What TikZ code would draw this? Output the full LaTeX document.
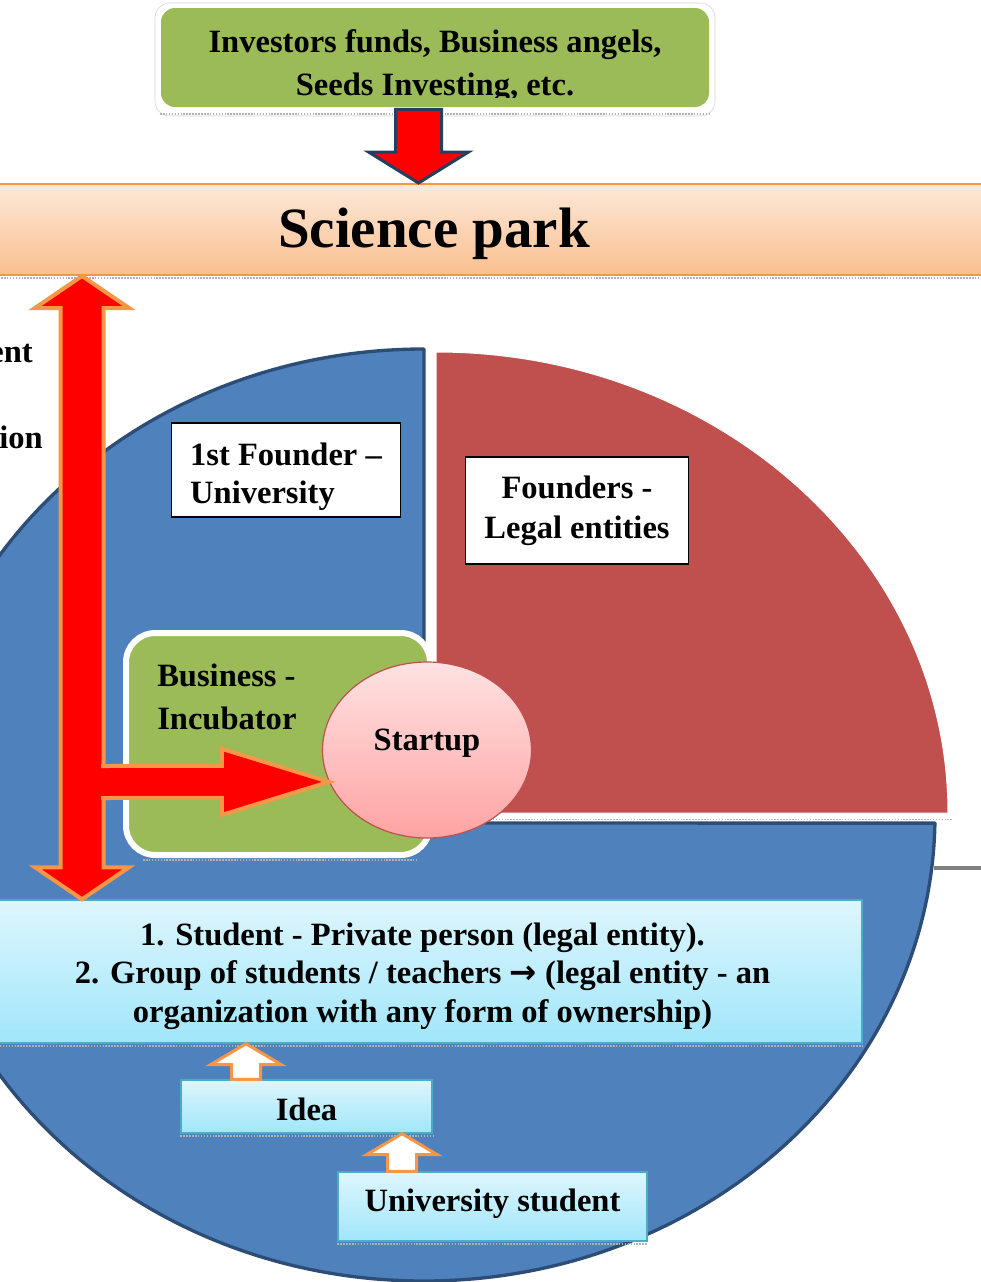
\documentclass[tikz,border=0pt]{standalone}
\usepackage{fontspec}
\setmainfont{Liberation Serif}
\newfontfamily\arrowfont{DejaVu Sans}
\usetikzlibrary{calc,shapes.geometric}

\definecolor{oliveleaf}{RGB}{155,187,89}
\definecolor{pieblue}{RGB}{79,129,189}
\definecolor{pieedge}{RGB}{44,77,117}
\definecolor{piered}{RGB}{192,80,77}
\definecolor{arrowred}{RGB}{255,0,0}
\definecolor{tangerine}{RGB}{247,150,70}
\definecolor{navyedge}{RGB}{36,63,96}
\definecolor{peachtop}{RGB}{253,233,217}
\definecolor{peachbot}{RGB}{250,191,143}
\definecolor{skytop}{RGB}{222,246,253}
\definecolor{skybot}{RGB}{160,230,250}
\definecolor{skyedge}{RGB}{75,172,198}
\definecolor{pinktop}{RGB}{255,226,226}
\definecolor{pinkbot}{RGB}{255,163,163}

\begin{document}
\begin{tikzpicture}[x=0.75pt,y=0.75pt,yscale=-1,xscale=1,
  lbl/.style={font=\bfseries\fontsize{24.4}{#1}\selectfont, inner sep=0pt, text=black},
  lbl/.default=28.5,
  fundsbox/.style={fill=oliveleaf, rounded corners=10.5pt, minimum width=411pt, minimum height=74.25pt, inner sep=0pt},
  parkband/.style={top color=peachtop, bottom color=peachbot, draw=tangerine, line width=1.5pt, minimum width=846pt, minimum height=68.25pt, inner sep=0pt, font=\bfseries\fontsize{42.75}{50}\selectfont},
  pieslice/.style={fill=pieblue, draw=pieedge, line width=2.5pt, line join=round},
  redslice/.style={fill=piered, draw=white, line width=0.75pt},
  whitebox/.style={draw=black, fill=white, line width=0.9pt},
  skybox/.style={draw=skyedge, line width=1.1pt, top color=skytop, bottom color=skybot},
  incubbox/.style={fill=oliveleaf, draw=white, line width=4.5pt, rounded corners=22pt, minimum width=228pt, minimum height=166.5pt},
  startupbox/.style={ellipse, draw=piered, line width=0.9pt, top color=pinktop, bottom color=pinkbot, minimum width=156.75pt, minimum height=132pt},
  fatarrow/.style={fill=arrowred, draw=tangerine, line width=3pt, line join=miter},
  droparrow/.style={fill=arrowred, draw=navyedge, line width=2.25pt, line join=miter},
  hollowarrow/.style={fill=white, draw=tangerine, line width=2.25pt, line join=miter},
  shadowline/.style={draw=gray!60, line width=1.2pt, densely dotted}
]
\useasboundingbox (0,0) rectangle (981,1282);
\clip (0,0) rectangle (981,1282);
\fill[white] (0,0) rectangle (981,1282);

%Shape: Science park band
\node[parkband] (park) at (434,229.5) {\raisebox{-3pt}[\height][\depth]{Science park}};
\draw[shadowline] ($(park.south west)+(0,2)$) -- ($(park.south east)+(0,2)$);

%Shape: pie, university part
\draw[pieslice] (424,823) -- (424,349) arc[start angle=270, end angle=1, x radius=511, y radius=466] -- cycle;
%Shape: pie, legal entities part
\draw[redslice] (436,813) -- (436,352) arc[start angle=270, end angle=360, x radius=512, y radius=461] -- cycle;
\draw[shadowline] (440,819.5) -- (952,819.5);

%Shape: 1st founder box
\node[whitebox, minimum width=171.75pt, minimum height=70.5pt] (firstfounder) at (286,470) {};
% Text Node
\node[lbl, align=left] (firstfounderlbl) at ($(firstfounder.center)+(0,6.5)$) {1st Founder –\\University};
% Text Node
\node[whitebox, lbl=30, align=center, minimum width=167.6pt, minimum height=80.25pt] (founders) at (577,510.5) {Founders -\\Legal entities};

%Shape: incubator
\node[incubbox] (incub) at (278,744) {};
\draw[shadowline] ($(incub.south west)+(20,2)$) -- ($(incub.south east)+(-15,2)$);
% Text Node
\node[lbl=32.25, anchor=north west, align=left] (incublbl) at ($(incub.north west)+(34,34)$) {Business -\\Incubator};

%Shape: startup
\node[startupbox, lbl] (startup) at (427,750) {\raisebox{4.9pt}[\height][\depth]{Startup}};

%Shape: roles box
\node[skybox, minimum width=659.25pt, minimum height=107.25pt] (roles) at (422.5,971.5) {};
\draw[shadowline] ($(roles.south west)+(0,2)$) -- ($(roles.south east)+(0,2)$);
% Text Node
\node[lbl=29, align=center] (roleslbl) at ($(roles.center)+(0,4.5)$) {1. Student - Private person (legal entity).\\2. Group of students / teachers {\arrowfont →} (legal entity - an\\organization with any form of ownership)};
% Text Node
\node[skybox, lbl, minimum width=188.25pt, minimum height=39.75pt] (idea) at (306.5,1106.5) {\raisebox{-2.25pt}[\height][\depth]{Idea}};
\draw[shadowline] ($(idea.south west)+(0,2)$) -- ($(idea.south east)+(0,2)$);
% Text Node
\node[skybox, lbl, minimum width=231.75pt, minimum height=51.75pt] (unistud) at (492.5,1206.5) {\raisebox{2.25pt}[\height][\depth]{University student}};
\draw[shadowline] ($(unistud.south west)+(0,2)$) -- ($(unistud.south east)+(0,2)$);

%Shape: double arrow park <-> roles
\coordinate (axis) at (82,0);
\coordinate (ptop) at (park.south -| axis);
\coordinate (pbot) at (roles.north -| axis);
\draw[fatarrow] (ptop) -- ($(ptop)+(47,32)$) -- ($(ptop)+(21.5,32)$) -- ($(pbot)+(21.5,-32)$) -- ($(pbot)+(47,-32)$) -- (pbot) -- ($(pbot)+(-47,-32)$) -- ($(pbot)+(-21.5,-32)$) -- ($(ptop)+(-21.5,32)$) -- ($(ptop)+(-47,32)$) -- cycle;

%Shape: arrow into startup
\coordinate (junction) at (101,782);
\draw[fatarrow] ($(junction)+(0,-16)$) -- ($(startup.198)+(-107,-16)$) -- ($(startup.198)+(-107,-33)$) -- (startup.198) -- ($(startup.198)+(-107,33)$) -- ($(startup.198)+(-107,16)$) -- ($(junction)+(0,16)$);

%Shape: idea -> roles
\coordinate (ideaaxis) at (246,0);
\coordinate (ideafoot) at (idea.north -| ideaaxis);
\coordinate (ideahead) at (roles.south -| ideaaxis);
\draw[hollowarrow] ($(ideafoot)+(-14.5,0)$) -- ($(ideahead)+(-14.5,21)$) -- ($(ideahead)+(-35.5,21)$) -- (ideahead) -- ($(ideahead)+(35.5,21)$) -- ($(ideahead)+(14.5,21)$) -- ($(ideafoot)+(14.5,0)$) -- cycle;

%Shape: student -> idea
\coordinate (studaxis) at (402,0);
\coordinate (studfoot) at (unistud.north -| studaxis);
\coordinate (studhead) at (idea.south -| studaxis);
\draw[hollowarrow] ($(studfoot)+(-14.5,0)$) -- ($(studhead)+(-14.5,21)$) -- ($(studhead)+(-35.5,21)$) -- (studhead) -- ($(studhead)+(35.5,21)$) -- ($(studhead)+(14.5,21)$) -- ($(studfoot)+(14.5,0)$) -- cycle;

%Shape: investors box
\draw[draw=gray!35, fill=white, rounded corners=11pt] (155,3) rectangle (715,116);
\draw[shadowline] (160,114) -- (710,114);
\node[fundsbox] (funds) at (435,57.5) {};
\begin{scope}
  \clip (funds.north west) rectangle ($(funds.south east)+(0,-10)$);
  % Text Node
  \node[lbl=32.25, align=center] (fundslbl) at (435,65.7) {Investors funds, Business angels,\\Seeds Investing, etc.};
\end{scope}

%Shape: arrow investors -> park
\coordinate (dropaxis) at (418.5,0);
\coordinate (dtop) at (funds.south -| dropaxis);
\coordinate (dtip) at (park.north -| dropaxis);
\draw[droparrow] ($(dtop)+(-23,2)$) -- ($(dtop)+(23,2)$) -- ($(dtip)+(23,-31)$) -- ($(dtip)+(50,-31)$) -- (dtip) -- ($(dtip)+(-50,-31)$) -- ($(dtip)+(-23,-31)$) -- cycle;

% Text Node
\node[lbl, anchor=base east] (govfrag) at (33,362) {ent};
% Text Node
\node[lbl, anchor=base east] (adminfrag) at (43,448) {ion};

%Straight Lines
\draw[draw=gray, line width=3pt] (934,868) -- (990,868);

\end{tikzpicture}
\end{document}
